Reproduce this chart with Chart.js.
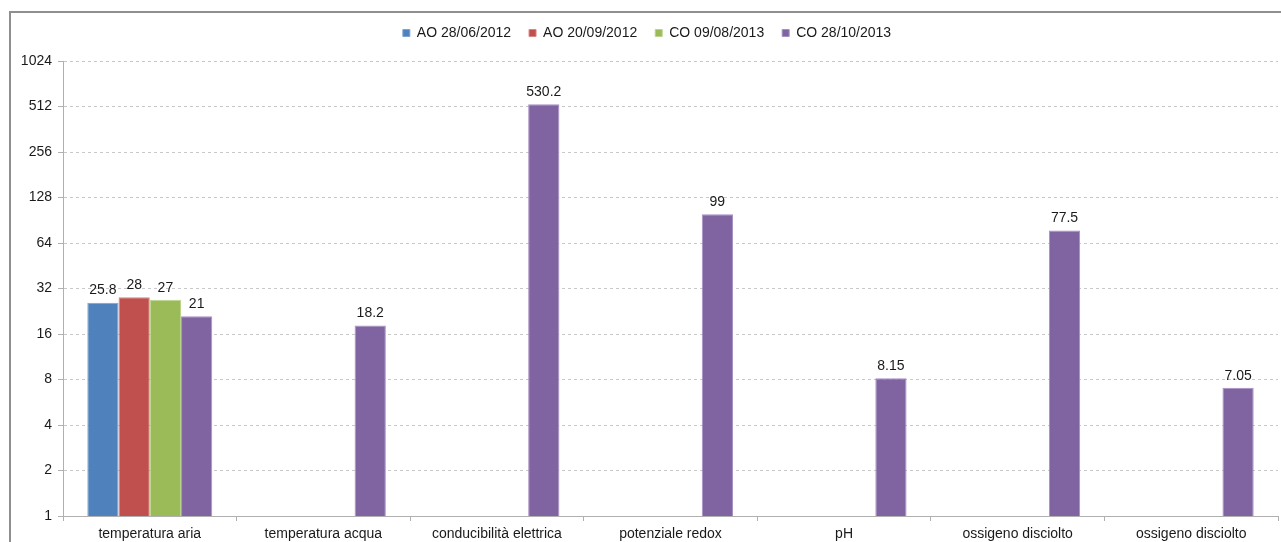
<!DOCTYPE html>
<html>
<head>
<meta charset="utf-8">
<script src="https://cdn.jsdelivr.net/npm/chart.js@4"></script>
<style>
  html, body { margin: 0; padding: 0; background: #fff; }
  #wrap { position: relative; width: 1281px; height: 542px; }
</style>
</head>
<body>
<div id="wrap"><canvas id="chart" width="1281" height="542"></canvas></div>
<script>
// categories and values
const categories = [
  "temperatura aria", "temperatura acqua", "conducibilità elettrica",
  "potenziale redox", "pH", "ossigeno disciolto", "ossigeno disciolto"
];
const seriesNames = ["AO 28/06/2012", "AO 20/09/2012", "CO 09/08/2013", "CO 28/10/2013"];
const ao2012Jun = [25.8, null, null, null, null, null, null];
const ao2012Sep = [28, null, null, null, null, null, null];
const co2013Aug = [27, null, null, null, null, null, null];
const co2013Oct = [21, 18.2, 530.2, 99, 8.15, 77.5, 7.05];
const yTicks = [1, 2, 4, 8, 16, 32, 64, 128, 256, 512, 1024];

const colors = ["#4F81BD", "#C0504D", "#9BBB59", "#8064A2"];
const edges = ["#7FA3D3", "#D98583", "#BCD58E", "#A690C4"];

const FONT = "'Liberation Sans', Arial, sans-serif";

// grey frame around the whole chart (cut off on right/bottom)
const framePlugin = {
  id: "frame",
  beforeDraw(chart) {
    const ctx = chart.ctx;
    ctx.save();
    ctx.strokeStyle = "#8f8f8f";
    ctx.lineWidth = 2;
    ctx.beginPath();
    ctx.moveTo(10, 560);
    ctx.lineTo(10, 12);
    ctx.lineTo(1300, 12);
    ctx.stroke();
    ctx.restore();
  }
};

// extra room under the legend, and nudge it a bit right
const legendGap = {
  id: "legendGap",
  beforeLayout(chart) {
    const lg = chart.legend;
    if (!lg || lg._gapPatched) return;
    const fit = lg.fit;
    lg.fit = function () {
      fit.call(this);
      this.height += 11;
    };
    lg._gapPatched = true;
  },
  afterLayout(chart) {
    if (!chart.legend) return;
    chart.legend.left += 8;
    chart.legend.right += 8;
  }
};

// value labels above each bar
const valueLabels = {
  id: "valueLabels",
  afterDatasetsDraw(chart) {
    const ctx = chart.ctx;
    ctx.save();
    ctx.font = "14px " + FONT;
    ctx.fillStyle = "#1a1a1a";
    ctx.textAlign = "center";
    ctx.textBaseline = "bottom";
    chart.data.datasets.forEach((ds, i) => {
      chart.getDatasetMeta(i).data.forEach((bar, j) => {
        const v = ds.data[j];
        if (v == null) return;
        ctx.fillText(String(v), bar.x, bar.y - 5);
      });
    });
    ctx.restore();
  }
};

const seriesData = [ao2012Jun, ao2012Sep, co2013Aug, co2013Oct];

new Chart(document.getElementById("chart"), {
  type: "bar",
  data: {
    labels: categories,
    datasets: seriesNames.map((name, i) => ({
      label: name,
      data: seriesData[i],
      backgroundColor: colors[i],
      borderColor: edges[i],
      borderWidth: 1,
      categoryPercentage: 0.72,
      barPercentage: 1.0
    }))
  },
  options: {
    responsive: false,
    animation: false,
    devicePixelRatio: 1,
    layout: { padding: { top: 8, right: 3, left: 0, bottom: 0 } },
    plugins: {
      legend: {
        position: "top",
        labels: {
          font: { family: FONT, size: 14 },
          color: "#1a1a1a",
          boxWidth: 7,
          boxHeight: 7,
          padding: 18
        }
      },
      tooltip: { enabled: false }
    },
    scales: {
      x: {
        afterFit(scale) { scale.height = 26; },
        grid: {
          offset: true,
          drawOnChartArea: false,
          drawTicks: true,
          tickLength: 5,
          color: "#b0b0b0"
        },
        border: { color: "#b0b0b0" },
        ticks: {
          font: { family: FONT, size: 14 },
          color: "#1a1a1a",
          padding: 5,
          maxRotation: 0,
          autoSkip: false
        }
      },
      y: {
        type: "logarithmic",
        min: 1,
        max: 1024,
        afterBuildTicks(scale) {
          scale.ticks = yTicks.map(v => ({ value: v }));
        },
        afterFit(scale) { scale.width = 63; },
        grid: {
          color: "#c8c8c8",
          drawTicks: true,
          tickLength: 5,
          tickColor: "#b0b0b0"
        },
        border: { color: "#b0b0b0", dash: [3, 3] },
        ticks: {
          font: { family: FONT, size: 14 },
          color: "#1a1a1a",
          padding: 6,
          callback: v => String(v)
        }
      }
    }
  },
  plugins: [framePlugin, legendGap, valueLabels]
});
</script>
</body>
</html>
